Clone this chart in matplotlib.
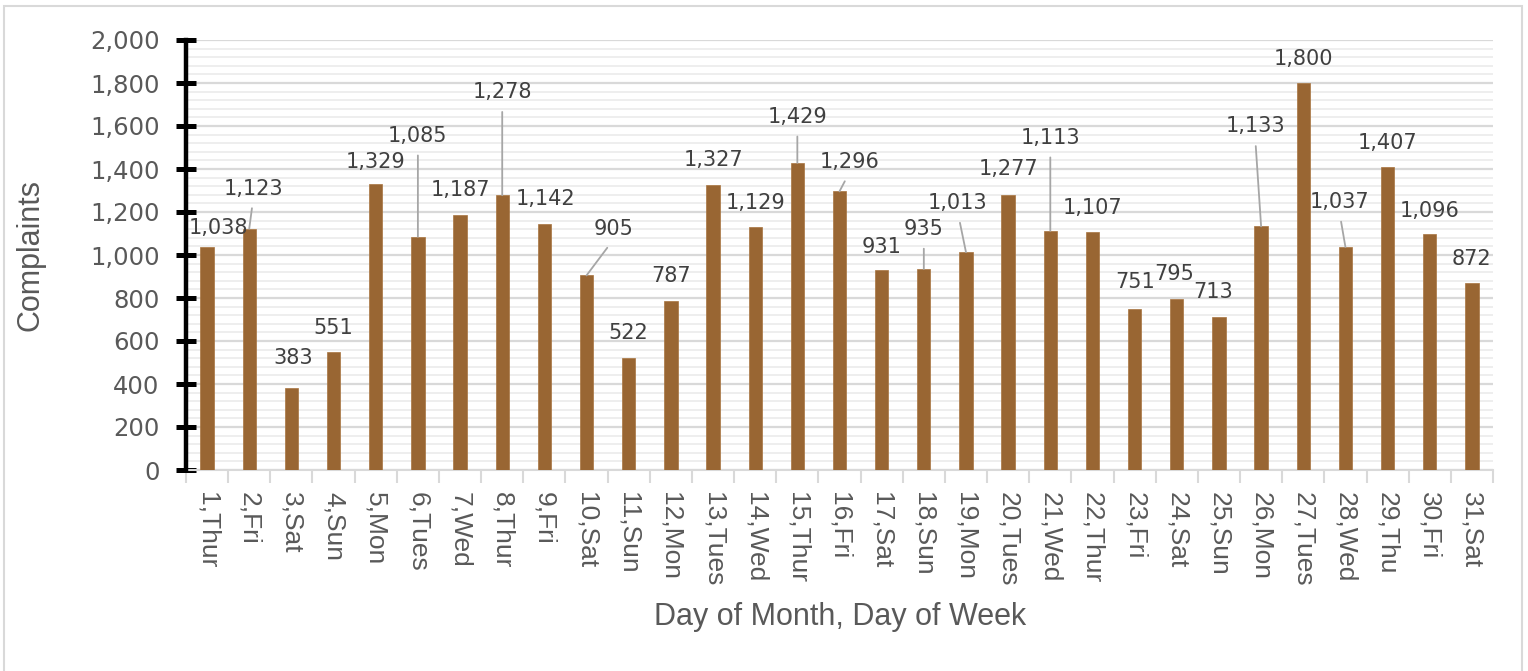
import matplotlib
matplotlib.use("Agg")
import matplotlib.pyplot as plt
from matplotlib.patches import Rectangle
from matplotlib.ticker import MultipleLocator, FuncFormatter

# ---- data ----
categories = ["1,Thur", "2,Fri", "3,Sat", "4,Sun", "5,Mon", "6,Tues", "7,Wed", "8,Thur",
              "9,Fri", "10,Sat", "11,Sun", "12,Mon", "13,Tues", "14,Wed", "15,Thur",
              "16,Fri", "17,Sat", "18,Sun", "19,Mon", "20,Tues", "21,Wed", "22,Thur",
              "23,Fri", "24,Sat", "25,Sun", "26,Mon", "27,Tues", "28,Wed", "29,Thu",
              "30,Fri", "31,Sat"]
complaints = [1038, 1123, 383, 551, 1329, 1085, 1187, 1278, 1142, 905, 522, 787, 1327,
              1129, 1429, 1296, 931, 935, 1013, 1277, 1113, 1107, 751, 795, 713, 1133,
              1800, 1037, 1407, 1096, 872]
y_ticks = [0, 200, 400, 600, 800, 1000, 1200, 1400, 1600, 1800, 2000]

# ---- label placement (pixel offsets from bar top) ----
label_dx = [11, 4, 2, 0, 0, 0, 0, 0, 1, 27, 0, 0, 0, 0, 0, 10, 0, 0, -8, 0, 0, 0, 0, -3, -6, -6, 0, -6, 0, 0, 0]
label_dy = [19, 40, 30, 24, 22, 101, 25, 103, 25, 46, 25, 25, 25, 24, 46, 29, 23, 40, 49, 26, 93, 24, 27, 25, 25, 100, 24, 45, 24, 23, 24]
leader = [False, True, False, False, False, True, False, True, False, True, False, False, False,
          False, True, True, False, True, True, False, True, False, False, False, False, True,
          False, True, False, False, False]

W, H = 1528, 671
fig = plt.figure(figsize=(W / 100, H / 100), dpi=100)
fig.patch.set_facecolor("white")

# outer chart border
fig.add_artist(Rectangle((4 / W, -0.01), 1518 / W, 1 - 6 / H + 0.01, transform=fig.transFigure,
                         fill=False, edgecolor="#d9d9d9", linewidth=1.5))

ax = fig.add_axes([186 / W, 1 - 470 / H, (1493 - 186) / W, (470 - 40) / H])
x = list(range(len(categories)))
ax.bar(x, complaints, width=0.316, color="#996633", edgecolor="#a8743f", linewidth=0.5, zorder=3)

ax.set_xlim(-0.5, len(categories) - 0.5)
ax.set_ylim(0, 2000)
ax.set_yticks(y_ticks)
ax.yaxis.set_minor_locator(MultipleLocator(40))
ax.yaxis.set_major_formatter(FuncFormatter(lambda v, p: f"{int(v):,}"))

ax.set_axisbelow(True)
ax.yaxis.grid(True, which="major", color="#d9d9d9", linewidth=1.6)
ax.yaxis.grid(True, which="minor", color="#eeeeee", linewidth=1.4)

for s in ["top", "right"]:
    ax.spines[s].set_visible(False)
ax.spines["left"].set_color("black")
ax.spines["left"].set_linewidth(3.2)
ax.spines["left"].set_zorder(5)
ax.spines["bottom"].set_color("#d9d9d9")
ax.spines["bottom"].set_linewidth(1.5)

ax.tick_params(axis="y", which="major", direction="inout", length=14, width=3.6, color="black",
               labelsize=17.5, labelcolor="#595959", pad=12)
ax.tick_params(axis="y", which="minor", length=0)
for t in ax.get_yticklabels():
    t.set_fontfamily("DejaVu Sans")

ax.set_xticks(x)
ax.set_xticklabels(categories, rotation=-90, fontsize=19, color="#595959",
                   fontfamily="Liberation Sans", va="top", ha="center")
ax.tick_params(axis="x", which="major", length=0, pad=16)
ax.set_xticks([i - 0.5 for i in range(len(categories) + 1)], minor=True)
ax.tick_params(axis="x", which="minor", length=9, width=1.5, color="#d9d9d9", direction="out")

for i, v in enumerate(complaints):
    kw = {}
    if leader[i]:
        kw["arrowprops"] = dict(arrowstyle="-", color="#a6a6a6", lw=1.3, relpos=(0.5, 0.0),
                                shrinkA=5, shrinkB=0)
    ax.annotate(f"{v:,}", xy=(i, v), xytext=(label_dx[i], label_dy[i]),
                textcoords="offset pixels", ha="center", va="center",
                fontsize=15, color="#404040", fontfamily="DejaVu Sans", zorder=6,
                annotation_clip=False, **kw)

fig.text(31 / W, 1 - 255 / H, "Complaints", rotation=90, ha="center", va="center",
         fontsize=22, color="#595959", fontfamily="Liberation Sans")
fig.text(840 / W, 1 - 617 / H, "Day of Month, Day of Week", ha="center", va="center",
         fontsize=22, color="#595959", fontfamily="Liberation Sans")

fig.savefig("out.png", dpi=100)
